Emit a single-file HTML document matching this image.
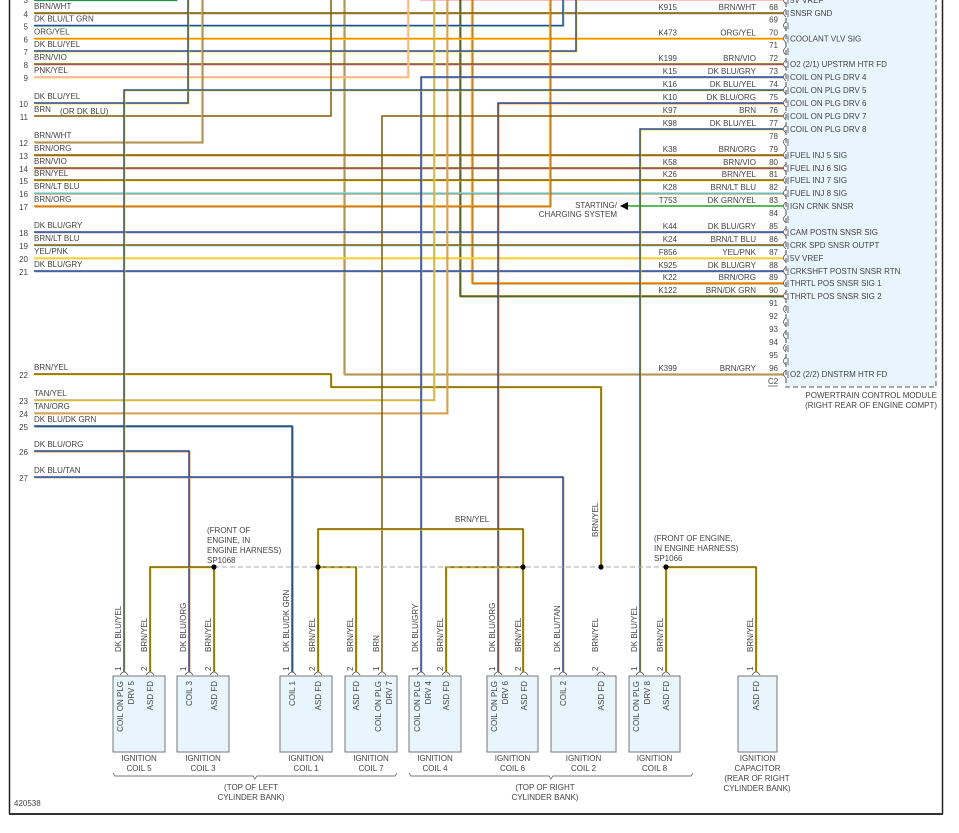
<!DOCTYPE html>
<html><head><meta charset="utf-8">
<style>
html,body{margin:0;padding:0;background:#fff;}
svg{display:block;font-family:"Liberation Sans",sans-serif;}
text{fill:#444;font-size:8px;}
</style></head>
<body>
<svg id="s" width="959" height="833" viewBox="0 0 959 833" xmlns="http://www.w3.org/2000/svg">
<rect x="786" y="-5" width="150" height="392" fill="#e8f5fc" stroke="#777" stroke-width="1.3" stroke-dasharray="5,3"/>
<line x1="9.5" y1="0" x2="9.5" y2="814" stroke="#222" stroke-width="1.5"/>
<line x1="942.5" y1="0" x2="942.5" y2="814" stroke="#222" stroke-width="1.5"/>
<line x1="9" y1="814" x2="943" y2="814" stroke="#333" stroke-width="2"/>
<g id="w"></g>
<g id="t"></g>
</svg>
<script>
var C={BRN:'#7d5c00',DKBLU:'#2c4a9e',LTGRN:'#80e090',ORG:'#ff8a00',YEL:'#f2e000',VIO:'#e070e0',PNK:'#ffaaaa',WHT:'#ffffff',LTBLU:'#80d8e8',GRY:'#a8a8a8',DKGRN:'#157048',TAN:'#c8aa70',GRNs:'#22a022'};
var ns='http://www.w3.org/2000/svg',W=document.getElementById('w'),T=document.getElementById('t');
function el(tag,a,p){var e=document.createElementNS(ns,tag);for(var k in a)e.setAttribute(k,a[k]);(p||W).appendChild(e);return e;}
function wire(pts,c1,c2,w){var d=pts.map(function(p){return p.join(',')}).join(' ');
 if(c2){el('polyline',{points:pts.map(function(p){return (p[0]+0.8)+','+(p[1]+0.8)}).join(' '),fill:'none',stroke:C[c2],'stroke-width':1.2});}
 el('polyline',{points:d,fill:'none',stroke:C[c1],'stroke-width':w||1.5});}
function tx(x,y,s,o){o=o||{};var e=el('text',{x:x,y:y},T);if(o.a)e.setAttribute('text-anchor',o.a);if(o.r)e.setAttribute('transform','rotate(-90 '+x+' '+y+')');if(o.s)e.setAttribute('style','font-size:'+o.s+'px');e.textContent=s;return e;}
var R=783;
// wires
wire([[34,0],[177,0]],'DKGRN','LTGRN');
wire([[420,0],[R,0]],'PNK');
var rows=[
[4,13,'BRN/WHT',[[34,13],[R,13]],'BRN','TAN'],
[5,25.5,'DK BLU/LT GRN',[[34,25.5],[563,25.5],[563,-5]],'DKBLU','LTGRN'],
[6,38.5,'ORG/YEL',[[34,38.5],[R,38.5]],'ORG','YEL'],
[7,51,'DK BLU/YEL',[[34,51],[576,51],[576,-5]],'DKBLU','YEL'],
[8,64,'BRN/VIO',[[34,64],[R,64]],'BRN','VIO'],
[9,77,'PNK/YEL',[[34,77],[408,77],[408,-5]],'PNK','YEL'],
[10,103,'DK BLU/YEL',[[34,103],[188,103],[188,-5]],'DKBLU','YEL'],
[11,116,'BRN',[[34,116],[331,116],[331,-5]],'BRN',null],
[12,142,'BRN/WHT',[[34,142],[202,142],[202,-5]],'TAN','BRN'],
[13,155,'BRN/ORG',[[34,155],[R,155]],'BRN','ORG'],
[14,168,'BRN/VIO',[[34,168],[R,168]],'BRN','VIO'],
[15,180,'BRN/YEL',[[34,180],[R,180]],'BRN','YEL'],
[16,193,'BRN/LT BLU',[[34,193],[R,193]],'LTBLU','BRN'],
[17,206,'BRN/ORG',[[34,206],[550,206],[550,-5]],'ORG','BRN'],
[18,232,'DK BLU/GRY',[[34,232],[R,232]],'DKBLU','GRY'],
[19,245,'BRN/LT BLU',[[34,245],[R,245]],'BRN','LTBLU'],
[20,258,'YEL/PNK',[[34,258],[R,258]],'YEL','PNK'],
[21,271,'DK BLU/GRY',[[34,271],[R,271]],'DKBLU','GRY'],
[22,374,'BRN/YEL',[[34,374],[331,374],[331,387],[601,387],[601,567]],'BRN','YEL'],
[23,400,'TAN/YEL',[[34,400],[434,400],[434,-5]],'TAN','YEL'],
[24,413,'TAN/ORG',[[34,413],[447,413],[447,-5]],'TAN','ORG'],
[25,426,'DK BLU/DK GRN',[[34,426],[292,426],[292,672]],'DKBLU','DKGRN'],
[26,451,'DK BLU/ORG',[[34,451],[189,451],[189,672]],'DKBLU','ORG'],
[27,477,'DK BLU/TAN',[[34,477],[563,477],[563,672]],'DKBLU','TAN']];
wire([[R,374],[344,374],[344,-5]],'TAN','BRN');
wire([[R,296],[460,296],[460,-5]],'BRN','DKGRN');
wire([[R,283],[472,283],[472,-5]],'ORG','BRN');
rows.forEach(function(r){wire(r[3],r[4],r[5]);tx(28,r[1]+4,''+r[0],{a:'end'});tx(34,r[1]-4,r[2]);});
tx(60,114,'(OR DK BLU)');
tx(28,3,'3',{a:'end'});
wire([[R,77],[421,77],[421,672]],'DKBLU','GRY');
wire([[R,90],[124,90],[124,672]],'DKBLU','YEL');
wire([[R,103],[498,103],[498,672]],'DKBLU','ORG');
wire([[R,116],[382,116],[382,672]],'BRN');
wire([[R,129],[640,129],[640,672]],'DKBLU','YEL');
wire([[628,206],[R,206]],'GRNs');
el('polygon',{points:'620,206 628,202 628,210',fill:'#000'});
tx(617,208,'STARTING/',{a:'end'});tx(617,217,'CHARGING SYSTEM',{a:'end'});
// splice
wire([[150,672],[150,567],[214,567],[214,672]],'BRN','YEL');
wire([[356,672],[356,567],[318,567],[318,672]],'BRN','YEL');
wire([[318,567],[318,529],[523,529],[523,567]],'BRN','YEL');
wire([[446,672],[446,567],[523,567],[523,672]],'BRN','YEL');
wire([[666,672],[666,567],[756,567],[756,672]],'BRN','YEL');
el('line',{x1:214,y1:567,x2:666,y2:567,stroke:'#aaa','stroke-width':1,'stroke-dasharray':'5,3'});
[214,318,523,601,666].forEach(function(x){el('circle',{cx:x,cy:567,r:2.6,fill:'#000'});});
tx(455,522,'BRN/YEL');
tx(207,533,'(FRONT OF');tx(207,543,'ENGINE, IN');tx(207,553,'ENGINE HARNESS)');tx(207,563,'SP1068');
tx(654,541,'(FRONT OF ENGINE,');tx(654,551,'IN ENGINE HARNESS)');tx(654,561,'SP1066');
tx(598,537,'BRN/YEL',{r:1});
// PCM pins
var pins=[[67,0,'','','5V VREF'],[68,13,'K915','BRN/WHT','SNSR GND'],[69,25.5,'','',''],[70,38.5,'K473','ORG/YEL','COOLANT VLV SIG'],[71,51,'','',''],[72,64,'K199','BRN/VIO','O2 (2/1) UPSTRM HTR FD'],[73,77,'K15','DK BLU/GRY','COIL ON PLG DRV 4'],[74,90,'K16','DK BLU/YEL','COIL ON PLG DRV 5'],[75,103,'K10','DK BLU/ORG','COIL ON PLG DRV 6'],[76,116,'K97','BRN','COIL ON PLG DRV 7'],[77,129,'K98','DK BLU/YEL','COIL ON PLG DRV 8'],[78,142,'','',''],[79,155,'K38','BRN/ORG','FUEL INJ 5 SIG'],[80,168,'K58','BRN/VIO','FUEL INJ 6 SIG'],[81,180,'K26','BRN/YEL','FUEL INJ 7 SIG'],[82,193,'K28','BRN/LT BLU','FUEL INJ 8 SIG'],[83,206,'T753','DK GRN/YEL','IGN CRNK SNSR'],[84,219,'','',''],[85,232,'K44','DK BLU/GRY','CAM POSTN SNSR SIG'],[86,245,'K24','BRN/LT BLU','CRK SPD SNSR OUTPT'],[87,258,'F856','YEL/PNK','5V VREF'],[88,271,'K925','DK BLU/GRY','CRKSHFT POSTN SNSR RTN'],[89,283,'K22','BRN/ORG','THRTL POS SNSR SIG 1'],[90,296,'K122','BRN/DK GRN','THRTL POS SNSR SIG 2'],[91,309,'','',''],[92,322,'','',''],[93,335,'','',''],[94,348,'','',''],[95,361,'','',''],[96,374,'K399','BRN/GRY','O2 (2/2) DNSTRM HTR FD']];
pins.forEach(function(p){var y=p[1];
 if(p[0]>67)tx(778,y-3,''+p[0],{a:'end'});
 if(p[2])tx(677,y-3,p[2],{a:'end'});if(p[3])tx(756,y-3,p[3],{a:'end'});
 if(p[4])tx(790,y+3,p[4]);
 el('path',{d:'M786,'+(y-4)+' Q781,'+y+' 786,'+(y+4),fill:'none',stroke:'#555','stroke-width':0.8});
 el('line',{x1:788,y1:y-3,x2:788,y2:y+4,stroke:'#555','stroke-width':0.8});});
var c2=tx(768,384,'C2');el('line',{x1:768,y1:386,x2:778,y2:386,stroke:'#444','stroke-width':0.7});
tx(937,398,'POWERTRAIN CONTROL MODULE',{a:'end'});tx(937,408,'(RIGHT REAR OF ENGINE COMPT)',{a:'end'});
// coils
var coils=[[113,165,[[124,'1','DK BLU/YEL'],[150,'2','BRN/YEL']],[[120,'COIL ON PLG'],[131,'DRV 5'],[150,'ASD FD']],'IGNITION','COIL 5'],
[177,229,[[189,'1','DK BLU/ORG'],[214,'2','BRN/YEL']],[[189,'COIL 3'],[214,'ASD FD']],'IGNITION','COIL 3'],
[280,332,[[292,'1','DK BLU/DK GRN'],[318,'2','BRN/YEL']],[[292,'COIL 1'],[318,'ASD FD']],'IGNITION','COIL 1'],
[345,397,[[356,'2','BRN/YEL'],[382,'1','BRN']],[[356,'ASD FD'],[378,'COIL ON PLG'],[389,'DRV 7']],'IGNITION','COIL 7'],
[409,461,[[421,'1','DK BLU/GRY'],[446,'2','BRN/YEL']],[[417,'COIL ON PLG'],[428,'DRV 4'],[446,'ASD FD']],'IGNITION','COIL 4'],
[487,538,[[498,'1','DK BLU/ORG'],[524,'2','BRN/YEL']],[[494,'COIL ON PLG'],[505,'DRV 6'],[524,'ASD FD']],'IGNITION','COIL 6'],
[551,616,[[563,'1','DK BLU/TAN'],[601,'2','BRN/YEL']],[[563,'COIL 2'],[601,'ASD FD']],'IGNITION','COIL 2'],
[629,680,[[640,'1','DK BLU/YEL'],[666,'2','BRN/YEL']],[[636,'COIL ON PLG'],[647,'DRV 8'],[666,'ASD FD']],'IGNITION','COIL 8'],
[738,777,[[756,'1','BRN/YEL']],[[756,'ASD FD']],'IGNITION','CAPACITOR']];
coils.forEach(function(c){
 el('rect',{x:c[0],y:676,width:c[1]-c[0],height:76,fill:'#e8f5fc',stroke:'#777','stroke-width':1});
 c[2].forEach(function(p){var x=p[0];
  el('path',{d:'M'+(x-4)+',675 Q'+x+',669 '+(x+4)+',675',fill:'none',stroke:'#555','stroke-width':0.8});
  tx(x-3,671,p[1],{r:1});tx(x-3,652,p[2],{r:1});});
 c[3].forEach(function(l){var e=tx(l[0]+3,681,l[1],{r:1,a:'end'});});
 var m=(c[0]+c[1])/2;tx(m,761,c[4],{a:'middle'});tx(m,771,c[5],{a:'middle'});});
tx(757,781,'(REAR OF RIGHT',{a:'middle'});tx(757,791,'CYLINDER BANK)',{a:'middle'});
function brace(x1,x2,y){var m=(x1+x2)/2;el('path',{d:'M'+x1+','+(y-3)+' L'+(x1+2)+','+y+' L'+(m-2)+','+y+' L'+m+','+(y+3)+' L'+(m+2)+','+y+' L'+(x2-2)+','+y+' L'+x2+','+(y-3),fill:'none',stroke:'#777','stroke-width':0.9});}
brace(113,397,776);brace(409,693,776);
tx(251,790,'(TOP OF LEFT',{a:'middle'});tx(251,800,'CYLINDER BANK)',{a:'middle'});
tx(545,790,'(TOP OF RIGHT',{a:'middle'});tx(545,800,'CYLINDER BANK)',{a:'middle'});
tx(14,806,'420538');
</script>
</body></html>
